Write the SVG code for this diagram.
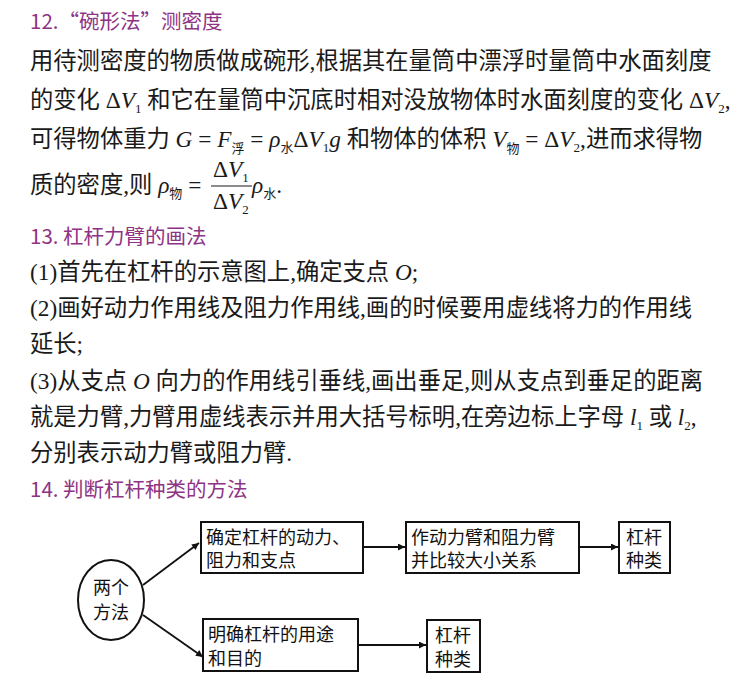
<svg xmlns="http://www.w3.org/2000/svg" width="750" height="691" viewBox="0 0 750 691">
<style>
.t{font-family:"Liberation Serif","Noto Sans CJK SC",serif;font-size:23.3px;fill:#1a1a1a}
.h{font-family:"Noto Sans CJK SC",sans-serif;font-size:20.5px;fill:#8e3385}
.i{font-style:italic}
.s{font-size:13px}
.b{fill:#fff;stroke:#111;stroke-width:2}
.n{font-family:"Noto Sans CJK SC",sans-serif;font-size:18px;fill:#111}
.c line{stroke:#111;stroke-width:1.8}
</style>
<defs><marker id="a" viewBox="0 0 10 10" refX="10" refY="5" markerWidth="10" markerHeight="7" orient="auto" markerUnits="userSpaceOnUse"><path d="M0,0L10,5L0,10z" fill="#111"/></marker></defs>
<rect width="750" height="691" fill="#fff"/>
<text class="h" x="30" y="29">12.“碗形法”测密度</text>
<text class="t" x="30" y="69">用待测密度的物质做成碗形,根据其在量筒中漂浮时量筒中水面刻度</text>
<text class="t" x="30" y="108">的变化 Δ<tspan class="i">V</tspan><tspan class="s" dy="5">1</tspan><tspan dy="-5"> 和它在量筒中沉底时相对没放物体时水面刻度的变化 Δ</tspan><tspan class="i">V</tspan><tspan class="s" dy="5">2</tspan><tspan dy="-5">,</tspan></text>
<text class="t" x="30" y="147">可得物体重力 <tspan class="i">G</tspan> = <tspan class="i">F</tspan><tspan class="s" dy="6">浮</tspan><tspan dy="-6"> = </tspan><tspan class="i">ρ</tspan><tspan class="s" dy="5">水</tspan><tspan dy="-5">Δ</tspan><tspan class="i">V</tspan><tspan class="s" dy="5">1</tspan><tspan class="i" dy="-5">g</tspan> 和物体的体积 <tspan class="i">V</tspan><tspan class="s" dy="6">物</tspan><tspan dy="-6"> = Δ</tspan><tspan class="i">V</tspan><tspan class="s" dy="5">2</tspan><tspan dy="-5">,进而求得物</tspan></text>
<text class="t" x="30" y="193">质的密度,则 <tspan class="i">ρ</tspan><tspan class="s" dy="5">物</tspan><tspan dy="-5"> =</tspan></text>
<text class="t" x="213" y="177">Δ<tspan class="i">V</tspan><tspan class="s" dy="5">1</tspan></text>
<line x1="211" y1="186" x2="252" y2="186" stroke="#1a1a1a" stroke-width="1.2"/>
<text class="t" x="213" y="209">Δ<tspan class="i">V</tspan><tspan class="s" dy="5">2</tspan></text>
<text class="t" x="252" y="193"><tspan class="i">ρ</tspan><tspan class="s" dy="5">水</tspan><tspan dy="-5">.</tspan></text>
<text class="h" x="30" y="244">13. 杠杆力臂的画法</text>
<text class="t" x="30" y="280">(1)首先在杠杆的示意图上,确定支点 <tspan class="i">O</tspan>;</text>
<text class="t" x="30" y="316">(2)画好动力作用线及阻力作用线,画的时候要用虚线将力的作用线</text>
<text class="t" x="30" y="352">延长;</text>
<text class="t" x="30" y="389">(3)从支点 <tspan class="i">O</tspan> 向力的作用线引垂线,画出垂足,则从支点到垂足的距离</text>
<text class="t" x="30" y="425">就是力臂,力臂用虚线表示并用大括号标明,在旁边标上字母 <tspan class="i">l</tspan><tspan class="s" dy="5">1</tspan><tspan dy="-5"> 或 </tspan><tspan class="i">l</tspan><tspan class="s" dy="5">2</tspan><tspan dy="-5">,</tspan></text>
<text class="t" x="30" y="461">分别表示动力臂或阻力臂.</text>
<text class="h" x="30" y="497">14. 判断杠杆种类的方法</text>
<g class="c">
<line x1="143" y1="585" x2="199" y2="543" marker-end="url(#a)"/>
<line x1="143" y1="615" x2="203" y2="657" marker-end="url(#a)"/>
<line x1="363" y1="547" x2="405" y2="547" marker-end="url(#a)"/>
<line x1="579" y1="547" x2="618" y2="547" marker-end="url(#a)"/>
<line x1="358" y1="645" x2="426" y2="645" marker-end="url(#a)"/>
</g>
<g id="n0"><ellipse class="b" cx="111" cy="600" rx="33" ry="40"/><text class="n" x="111" y="594" text-anchor="middle">两个</text><text class="n" x="111" y="619" text-anchor="middle">方法</text></g>
<g id="n1"><rect class="b" x="201" y="522" width="162" height="51"/><text class="n" x="206" y="544">确定杠杆的动力、</text><text class="n" x="206" y="567">阻力和支点</text></g>
<g id="n2"><rect class="b" x="406" y="522" width="173" height="51"/><text class="n" x="411" y="544">作动力臂和阻力臂</text><text class="n" x="411" y="567">并比较大小关系</text></g>
<g id="n3"><rect class="b" x="619" y="522" width="51" height="51"/><text class="n" x="644" y="544" text-anchor="middle">杠杆</text><text class="n" x="644" y="567" text-anchor="middle">种类</text></g>
<g id="n4"><rect class="b" x="203" y="619" width="155" height="52"/><text class="n" x="208" y="641">明确杠杆的用途</text><text class="n" x="208" y="665">和目的</text></g>
<g id="n5"><rect class="b" x="427" y="620" width="53" height="52"/><text class="n" x="453" y="642" text-anchor="middle">杠杆</text><text class="n" x="453" y="666" text-anchor="middle">种类</text></g>
</svg>
